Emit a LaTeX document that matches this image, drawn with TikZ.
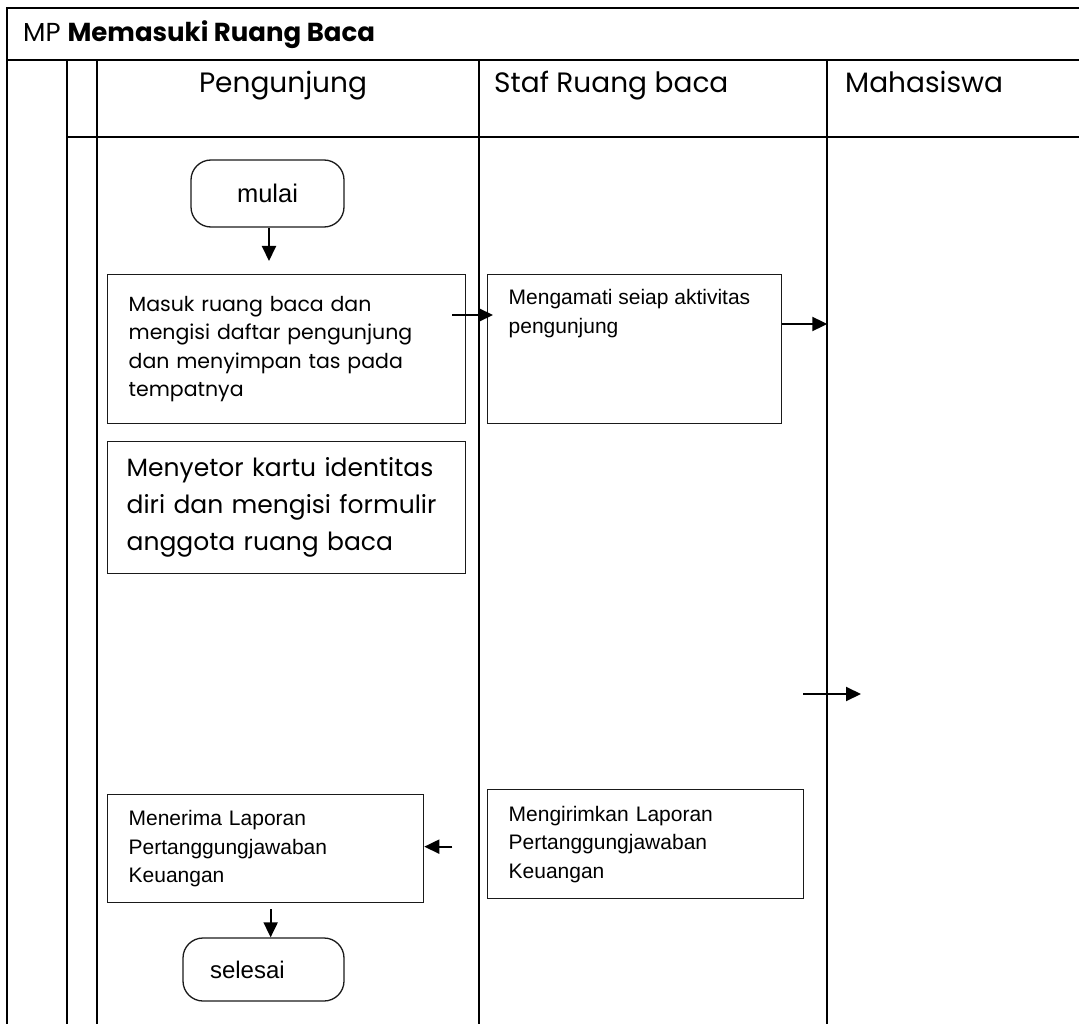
\documentclass[tikz,border=0pt]{standalone}
\usepackage{fontspec}
\setmainfont{Liberation Sans}
\newfontfamily\gothic{Poppins}
\usepackage{tikz}
\usetikzlibrary{arrows.meta, positioning, calc}
\definecolor{gridink}{HTML}{000000}
\definecolor{boxink}{HTML}{1A1A1A}
\tikzset{
  judul/.style={font=\gothic\fontsize{26}{30}\selectfont, anchor=base west, inner sep=0pt},
  lanehead/.style={font=\gothic\fontsize{28}{32}\selectfont, anchor=base west, inner sep=0pt},
  gridline/.style={line width=2pt, draw=gridink},
  proc/.style={draw=boxink, line width=1.3pt, anchor=north west, align=left,
               inner xsep=21pt, inner ysep=0pt, font=\fontsize{21}{28.5}\selectfont},
  gproc/.style={proc, font=\gothic\fontsize{20.5}{28.5}\selectfont},
  term/.style={draw=boxink, line width=1.3pt, rounded corners=20pt, inner sep=0pt,
               font=\fontsize{24}{28}\selectfont},
  flow/.style={-{Triangle[length=15pt, width=14pt]}, line width=2pt, color=gridink},
}
\begin{document}
\begin{tikzpicture}[x=1pt, y=-1pt]
  \useasboundingbox (0,0) rectangle (1079,1024);
  \draw[gridline] (7,1024) -- (7,8) -- (1079,8);
  \draw[gridline] (7,60) -- (1079,60);
  \draw[gridline] (67,137) -- (1079,137);
  \foreach \x in {67,97,479,827} { \draw[gridline] (\x,60) -- (\x,1024); }
  \node[judul] (mp) at (23,42) {MP \textbf{Memasuki Ruang Baca}};
  \node[lanehead, anchor=base] (pengunjung) at (283,93) {Pengunjung};
  \node[lanehead] (staf) at (494,93) {Staf Ruang baca};
  \node[lanehead] (mahasiswa) at (845,93) {Mahasiswa};
  \node[term, font=\fontsize{25.5}{28}\selectfont, minimum width=153pt, minimum height=67pt] (mulai) at (267.5,193.5) {mulai};
  \node[gproc, text width=316pt, minimum height=149pt] (masuk) at (107,274)
    {Masuk ruang baca dan\\mengisi daftar pengunjung\\dan menyimpan tas pada\\tempatnya};
  \node[proc, inner ysep=15pt] (amati) at (487,274)
    {\parbox[t][119pt][t]{252pt}{Mengamati seiap aktivitas\\pengunjung}};
  \node[gproc, font=\gothic\fontsize{25}{37}\selectfont, text width=320pt, inner xsep=19pt, minimum height=132pt] (setor) at (107,441)
    {Menyetor kartu identitas\\diri dan mengisi formulir\\anggota ruang baca};
  \node[proc, text width=274pt, minimum height=109pt] (kirim) at (487,789)
    {Mengirimkan Laporan\\Pertanggungjawaban\\Keuangan};
  \node[proc, text width=274pt, minimum height=108pt] (terima) at (107,794)
    {Menerima Laporan\\Pertanggungjawaban\\Keuangan};
  \node[term, minimum width=161pt, minimum height=63pt, text width=107pt, align=left, inner xsep=27pt] (selesai) at (263.5,969.5) {selesai};
  \coordinate (lepas) at (803,694);
  \draw[flow, shorten >=13pt] ([xshift=1.5pt]mulai.south) -- ([xshift=1.5pt]mulai.south |- masuk.north);
  \draw[flow] ($(masuk.north east)+(-14,41)$) -- ($(amati.north west)+(6,41)$);
  \draw[flow] ($(amati.north east)+(0,50)$) -- ($(amati.north east)+(45,50)$);
  \draw[flow] (lepas) -- ++(58,0);
  \draw[flow] ($(terima.east)+(28,-2)$) -- ($(terima.east)+(0,-2)$);
  \draw[flow, shorten <=6pt] ([xshift=5pt]terima.south) -- ([xshift=5pt]terima.south |- selesai.north);
\end{tikzpicture}
\end{document}
